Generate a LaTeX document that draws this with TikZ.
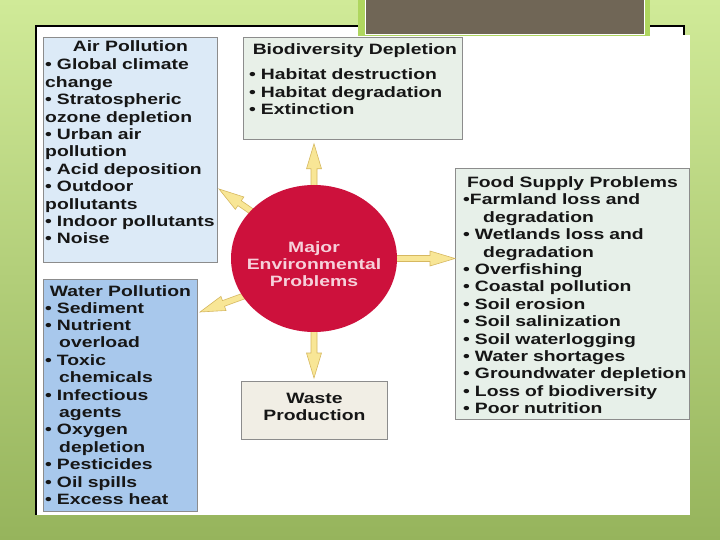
\documentclass[tikz,border=0pt]{standalone}
\usepackage{fontspec}
\newfontfamily\boxfont{Liberation Sans}[FakeStretch=1.29]
\usepackage{tikz}
\usetikzlibrary{positioning}
\usetikzlibrary{calc,shapes.geometric}

\definecolor{slidetop}{RGB}{208,234,152}
\definecolor{slidebottom}{RGB}{150,180,92}
\definecolor{slideband}{RGB}{175,214,95}
\definecolor{titlebar}{RGB}{112,102,86}
\definecolor{boxgray}{RGB}{140,140,140}
\definecolor{airblue}{RGB}{220,234,247}
\definecolor{bioshade}{RGB}{232,240,232}
\definecolor{foodshade}{RGB}{231,240,233}
\definecolor{waterblue}{RGB}{168,200,236}
\definecolor{wasteshade}{RGB}{241,238,229}
\definecolor{corered}{RGB}{205,17,60}
\definecolor{corepink}{RGB}{246,208,218}
\definecolor{arrowfill}{RGB}{248,230,150}
\definecolor{arrowedge}{RGB}{214,184,96}
\definecolor{inkblack}{RGB}{22,22,22}

\tikzset{
	boxline/.style={draw=boxgray, line width=0.8pt, anchor=north west, inner sep=0pt},
	boxtext/.style={font=\boxfont\bfseries\fontsize{15}{17.4}\selectfont, text=inkblack, inner sep=0pt},
	listtext/.style={boxtext, text width=240pt, align=left, anchor=base west},
	titletext/.style={boxtext, anchor=base},
	arrowbody/.style={fill=arrowfill, draw=arrowedge, line width=0.6pt, line join=miter},
}

% block arrow from #1 (start) to #2 (tip)
\newcommand{\fatarrow}[2]{%
	\path ($(#1)!-12pt!(#2)$) coordinate (fa-s) (#2) coordinate (fa-t);
	\path ($(fa-t)!25pt!(fa-s)$) coordinate (fa-h);
	\filldraw[arrowbody] ($(fa-s)!3pt!90:(fa-t)$) -- ($(fa-h)!3pt!-90:(fa-s)$)
		-- ($(fa-h)!7.5pt!-90:(fa-s)$) -- (fa-t) -- ($(fa-h)!7.5pt!90:(fa-s)$)
		-- ($(fa-h)!3pt!90:(fa-s)$) -- ($(fa-s)!3pt!-90:(fa-t)$) -- cycle;}

\begin{document}
\begin{tikzpicture}[x=1pt, y=-1pt]

	\useasboundingbox (0,0) rectangle (720,540);

	% ------------------------------------------------
	% Slide background and picture frame
	\shade[top color=slidetop, bottom color=slidebottom] (0,0) rectangle (720,540);
	\filldraw[fill=white, draw=black, line width=1.2pt] (36,26) rectangle (684,514);
	\fill[white] (37,35) rectangle (690,515);
	\fill[slideband] (358,-2) rectangle (650,36);
	\filldraw[fill=titlebar, draw=white, line width=1pt] (365,-2) rectangle (644,35);

	% ------------------------------------------------
	% Boxes
	\node[boxline, fill=airblue, minimum width=174pt, minimum height=225pt] (air) at (43,37) {};
	\node[boxline, fill=bioshade, minimum width=219pt, minimum height=102pt] (bio) at (243,37) {};
	\node[boxline, fill=foodshade, minimum width=234pt, minimum height=251pt] (food) at (455,168) {};
	\node[boxline, fill=waterblue, minimum width=154pt, minimum height=232pt] (water) at (43,279) {};
	\node[boxline, fill=wasteshade, minimum width=146pt, minimum height=58pt] (waste) at (241,381) {};

	% ------------------------------------------------
	% Hub and arrow tips
	\coordinate (core) at (314,258.5);
	\node[ellipse, minimum width=166pt, minimum height=147pt, inner sep=0pt] (hub) at (core) {};

	\path (core |- bio.south)   +(0,4)  coordinate (biotip);
	\path (food.west |- core)           coordinate (foodtip);
	\path (core |- waste.north) +(0,-3) coordinate (wastetip);
	\coordinate (airtip)   at (219,189);
	\coordinate (watertip) at (200,312);

	% ----------------
	% Arrows
	\fatarrow{hub.north}{biotip}
	\fatarrow{hub.east}{foodtip}
	\fatarrow{hub.south}{wastetip}
	\fatarrow{hub.143}{airtip}
	\fatarrow{hub.208}{watertip}

	\fill[corered] (hub.center) ellipse [x radius=83pt, y radius=73.5pt];

	\node[boxtext, text=corepink, text width=160pt, align=center, anchor=base] (hubtxt) at (314,252)
		{Major\\Environmental\\Problems};

	%%%%%%%%%%%%%%%%%%%%%%%%%%%%%%%%%%%%%%%%%
	% Texts
	\node[titletext] (airtitle) at (air.north |- 0,52) {Air Pollution};
	\node[listtext] (airlist) at (45,70)
		{• Global climate\\change\\• Stratospheric\\ozone depletion\\• Urban air\\pollution\\%
		 • Acid deposition\\• Outdoor\\pollutants\\• Indoor pollutants\\• Noise};

	\node[titletext] (biotitle) at ([xshift=2pt]bio.north |- 0,55) {Biodiversity Depletion};
	\node[listtext] (biolist) at (249,80)
		{• Habitat destruction\\• Habitat degradation\\• Extinction};

	\node[titletext] (foodtitle) at (food.north |- 0,188) {Food Supply Problems};
	\node[listtext] (foodlist) at (463,205)
		{•Farmland loss and\\\hspace*{20pt}degradation\\• Wetlands loss and\\\hspace*{20pt}degradation\\%
		 • Overfishing\\• Coastal pollution\\• Soil erosion\\• Soil salinization\\• Soil waterlogging\\%
		 • Water shortages\\• Groundwater depletion\\• Loss of biodiversity\\• Poor nutrition};

	\node[titletext] (watertitle) at (water.north |- 0,296) {Water Pollution};
	\node[listtext] (waterlist) at (45,313)
		{• Sediment\\• Nutrient\\\hspace*{14pt}overload\\• Toxic\\\hspace*{14pt}chemicals\\%
		 • Infectious\\\hspace*{14pt}agents\\• Oxygen\\\hspace*{14pt}depletion\\• Pesticides\\%
		 • Oil spills\\• Excess heat};

	\node[boxtext, text width=140pt, align=center, anchor=base] (wastetxt) at (waste.north |- 0,403)
		{Waste\\Production};

\end{tikzpicture}
\end{document}
